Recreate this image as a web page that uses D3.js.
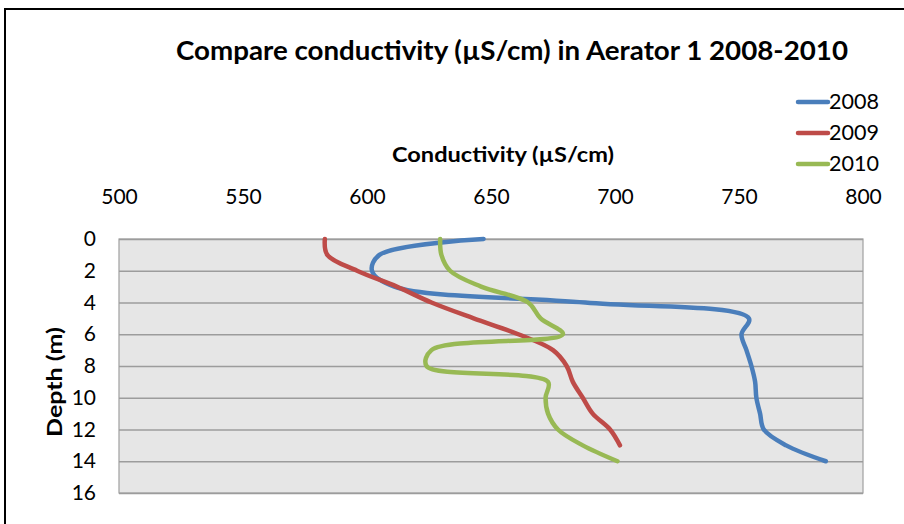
<!DOCTYPE html>
<html>
<head>
<meta charset="utf-8">
<script src="https://cdn.jsdelivr.net/npm/d3@7"></script>
<style>
  html, body { margin: 0; padding: 0; background: #fff; }
  svg { display: block; }
  text { font-family: Lato, "Open Sans", sans-serif; fill: #000; }
</style>
</head>
<body>
<div id="chart"></div>
<script>
// ---- data ----
const depths2008 = [0, 1, 2, 3, 4, 5, 6, 7, 8, 9, 10, 11, 12, 13, 14];
const cond2008   = [647, 605, 602, 611, 688, 754, 751, 753, 755, 756.5, 757, 758.5, 760, 769, 785];
const depths2009 = [0, 1, 2, 3, 4, 5, 6, 7, 8, 9, 10, 11, 12, 13];
const cond2009   = [583, 584, 596, 612, 626, 643, 661, 675, 680.5, 683, 687, 691, 698, 702];
const depths2010 = [0, 1, 2, 3, 4, 5, 6, 7, 8, 9, 10, 11, 12, 13, 14];
const cond2010   = [629.5, 630, 633.5, 646, 665, 670, 679, 626, 624, 673, 672, 673, 677, 687, 701];
const seriesNames = ["2008", "2009", "2010"];
const xTicks = [500, 550, 600, 650, 700, 750, 800];
const yTicks = [0, 2, 4, 6, 8, 10, 12, 14, 16];
const titleText = "Compare conductivity (µS/cm) in Aerator 1 2008-2010";
const xTitle = "Conductivity (µS/cm)";
const yTitle = "Depth (m)";

const colors = ["#4a7ebb", "#be4b48", "#98b954"];

const W = 904, H = 524;
const svg = d3.select("#chart").append("svg").attr("width", W).attr("height", H);

// outer frame
svg.append("rect").attr("x", 5).attr("y", 9).attr("width", 1000).attr("height", 1000)
  .attr("fill", "none").attr("stroke", "#000").attr("stroke-width", 2);

const plot = { left: 119, right: 863, top: 239, bottom: 493 };
const x = d3.scaleLinear().domain([500, 800]).range([plot.left, plot.right]);
const y = d3.scaleLinear().domain([0, 16]).range([plot.top, plot.bottom]);

// plot background
svg.append("rect").attr("x", plot.left).attr("y", plot.top)
  .attr("width", plot.right - plot.left).attr("height", plot.bottom - plot.top)
  .attr("fill", "#e6e6e6").attr("stroke", "#a0a0a0").attr("stroke-width", 1.2);

// gridlines
const grid = svg.append("g").attr("transform", `translate(${plot.left},0)`)
  .call(d3.axisLeft(y).tickValues(yTicks).tickSize(-(plot.right - plot.left)).tickFormat(""));
grid.select(".domain").remove();
grid.selectAll(".tick line").attr("stroke", "#9c9c9c").attr("stroke-width", 1.5);

// x axis (top)
const xa = svg.append("g").attr("transform", `translate(0,197)`)
  .call(d3.axisTop(x).tickValues(xTicks).tickSize(0).tickPadding(0).tickFormat(d3.format("d")));
xa.select(".domain").remove();
xa.selectAll(".tick text").attr("font-size", 21).attr("font-family", "Lato")
  .attr("dy", "0.35em").attr("fill", "#000");

// y axis
const ya = svg.append("g").attr("transform", `translate(96,0)`)
  .call(d3.axisLeft(y).tickValues(yTicks).tickSize(0).tickPadding(0).tickFormat(d3.format("d")));
ya.select(".domain").remove();
ya.selectAll(".tick text").attr("font-size", 21).attr("font-family", "Lato").attr("fill", "#000");

// lines
const line = d3.line().x(d => x(d[0])).y(d => y(d[1])).curve(d3.curveCatmullRom.alpha(0.5));
const series = [
  d3.zip(cond2008, depths2008),
  d3.zip(cond2009, depths2009),
  d3.zip(cond2010, depths2010)
];
series.forEach((s, i) => {
  svg.append("path").datum(s).attr("d", line)
    .attr("fill", "none").attr("stroke", colors[i]).attr("stroke-width", 4.5)
    .attr("stroke-linecap", "round").attr("stroke-linejoin", "round");
});

// title
svg.append("text").attr("x", 512).attr("y", 60).attr("text-anchor", "middle")
  .attr("font-size", 27).attr("font-weight", "bold")
  .attr("textLength", 672).attr("lengthAdjust", "spacingAndGlyphs")
  .text(titleText);

// axis titles
svg.append("text").attr("x", 503).attr("y", 162).attr("text-anchor", "middle")
  .attr("font-size", 21).attr("font-weight", "bold")
  .attr("textLength", 222).attr("lengthAdjust", "spacingAndGlyphs")
  .text(xTitle);
svg.append("text").attr("transform", "translate(62,382) rotate(-90)").attr("text-anchor", "middle")
  .attr("font-size", 21).attr("font-weight", "bold")
  .attr("textLength", 110).attr("lengthAdjust", "spacingAndGlyphs")
  .text(yTitle);

// legend
const legendY = [102, 133, 164];
seriesNames.forEach((n, i) => {
  const g = svg.append("g").attr("transform", `translate(798,${legendY[i]})`);
  g.append("line").attr("x1", 0).attr("x2", 30).attr("y1", 0).attr("y2", 0)
    .attr("stroke", colors[i]).attr("stroke-width", 4.5).attr("stroke-linecap", "round");
  g.append("text").attr("x", 31).attr("y", 0).attr("dy", "0.35em")
    .attr("font-size", 21).attr("textLength", 50).attr("lengthAdjust", "spacingAndGlyphs").text(n);
});
</script>
</body>
</html>
